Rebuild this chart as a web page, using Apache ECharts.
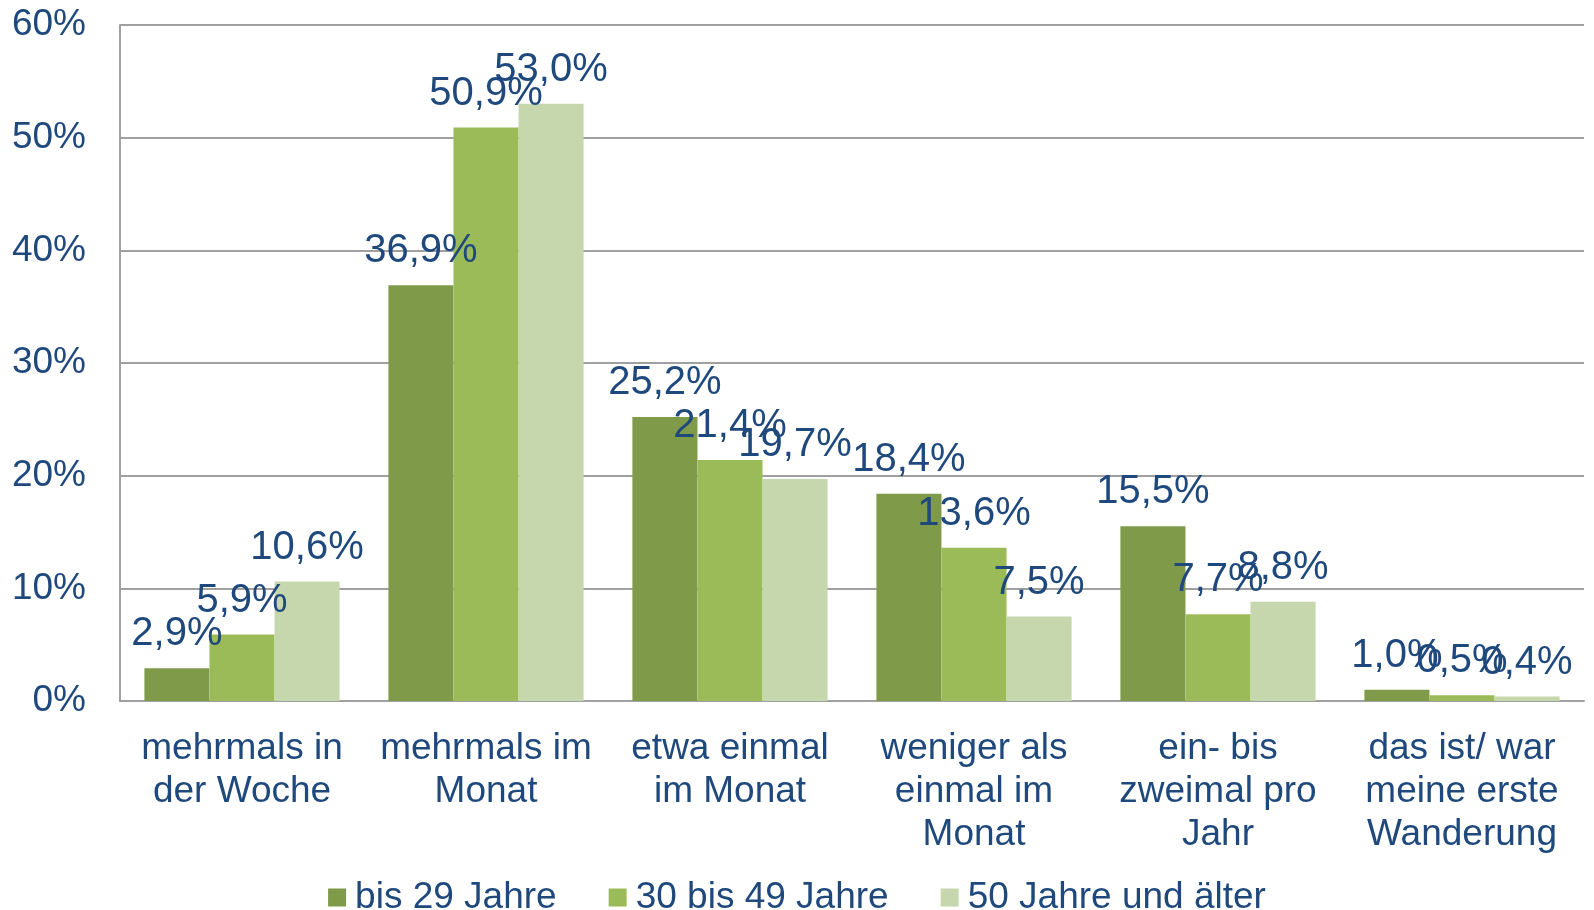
<!DOCTYPE html>
<html>
<head>
<meta charset="utf-8">
<script src="https://cdn.jsdelivr.net/npm/echarts@6/dist/echarts.min.js"></script>
<style>
html,body{margin:0;padding:0;background:#fff;}
#chart{width:1594px;height:910px;}
</style>
</head>
<body>
<div id="chart"></div>
<script>
const categories = [
  "mehrmals in\nder Woche",
  "mehrmals im\nMonat",
  "etwa einmal\nim Monat",
  "weniger als\neinmal im\nMonat",
  "ein- bis\nzweimal pro\nJahr",
  "das ist/ war\nmeine erste\nWanderung"
];
const seriesNames = ["bis 29 Jahre", "30 bis 49 Jahre", "50 Jahre und älter"];
const bis29 = [2.9, 36.9, 25.2, 18.4, 15.5, 1.0];
const bis49 = [5.9, 50.9, 21.4, 13.6, 7.7, 0.5];
const ab50 = [10.6, 53.0, 19.7, 7.5, 8.8, 0.4];
const yTicks = [0, 10, 20, 30, 40, 50, 60];

const colors = ["#7F9A48", "#9BBB59", "#C6D7AE"];
const textColor = "#1F497D";
const font = "Liberation Sans, Arial, sans-serif";

const chart = echarts.init(document.getElementById('chart'), null, {renderer: 'canvas'});
const allData = [bis29, bis49, ab50];
chart.setOption({
  animation: false,
  textStyle: {fontFamily: font},
  grid: {left: 120, right: 10, top: 25, bottom: 209, containLabel: false},
  legend: {
    data: seriesNames,
    left: 'center',
    top: 874,
    itemWidth: 18,
    itemHeight: 18,
    itemGap: 52,
    icon: 'rect',
    textStyle: {fontSize: 37, color: textColor, fontFamily: font, padding: [0, 0, 0, 4]}
  },
  xAxis: {
    type: 'category',
    data: categories,
    axisLine: {show: true, lineStyle: {color: '#A0A0A0', width: 2}},
    axisTick: {show: false},
    axisLabel: {
      interval: 0,
      fontSize: 37,
      lineHeight: 43,
      color: textColor,
      margin: 26,
      fontFamily: font
    }
  },
  yAxis: {
    type: 'value',
    min: yTicks[0],
    max: yTicks[yTicks.length - 1],
    interval: 10,
    axisLine: {show: true, lineStyle: {color: '#A0A0A0', width: 2}},
    axisTick: {show: false},
    splitLine: {show: true, lineStyle: {color: '#A0A0A0', width: 2}},
    axisLabel: {
      fontSize: 37,
      color: textColor,
      margin: 34,
      fontFamily: font,
      formatter: v => v + '%'
    }
  },
  series: seriesNames.map((name, i) => ({
    name: name,
    type: 'bar',
    data: allData[i],
    barGap: '0%',
    barCategoryGap: '20%',
    itemStyle: {color: colors[i]},
    label: {
      show: true,
      position: 'top',
      distance: 14,
      fontSize: 40,
      color: textColor,
      fontFamily: font,
      formatter: p => p.value.toFixed(1).replace('.', ',') + '%'
    }
  }))
});
</script>
</body>
</html>
